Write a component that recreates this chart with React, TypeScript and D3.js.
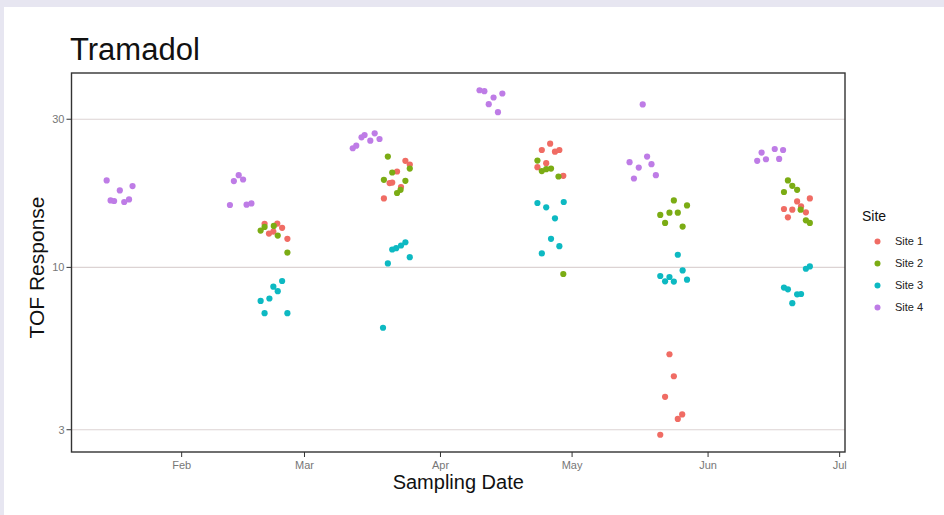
import React from 'react'
import * as d3 from 'd3'

// day of year 2021 (Jan 1 = 0), jittered sampling position
const site1Days = [49.9, 52.8, 53.9, 50.9, 51.9, 55.1, 82.0, 83.0, 80.1, 78.4, 79.0, 81.0, 77.1,
  115.0, 113.1, 116.1, 117.1, 114.1, 112.1, 118.0, 142.2, 143.2, 141.2, 145.1, 144.1, 140.1,
  171.3, 174.2, 168.3, 170.2, 173.3, 169.2, 172.2]
const site1Values = [13.81, 13.84, 13.41, 12.85, 13.04, 12.36, 22.03, 21.43, 20.36, 18.68, 18.76, 18.14, 16.68,
  25.02, 23.88, 23.59, 23.88, 21.65, 21.02, 19.72, 5.25, 4.46, 3.83, 3.36, 3.25, 2.89,
  16.31, 16.68, 15.42, 15.34, 15.04, 14.5, 15.72]

const site2Days = [49.0, 49.9, 52.0, 52.9, 55.1, 78.0, 79.0, 77.1, 83.0, 82.0, 80.1, 80.9,
  112.1, 113.1, 114.1, 115.2, 116.9, 118.0, 143.2, 146.2, 140.1, 142.2, 144.1, 141.2, 145.2,
  169.2, 170.2, 171.3, 168.3, 172.1, 173.3, 174.2]
const site2Values = [13.14, 13.5, 13.6, 12.66, 11.16, 22.74, 20.21, 19.14, 20.81, 19.0, 17.36, 17.78,
  22.08, 20.42, 20.72, 20.81, 19.62, 9.52, 16.43, 15.83, 14.75, 15.0, 15.0, 13.91, 13.53,
  19.05, 18.31, 17.78, 17.49, 15.34, 14.18, 13.91]

const site3Days = [53.9, 51.9, 52.9, 51.0, 49.0, 49.9, 55.1, 82.0, 81.0, 79.9, 79.0, 83.0, 78.0, 76.9,
  112.1, 114.1, 118.1, 116.1, 115.2, 117.1, 113.1, 144.1, 145.2, 140.1, 141.2, 142.2, 143.2, 146.2,
  174.2, 173.3, 168.3, 169.2, 171.3, 172.2, 170.2]
const site3Values = [9.04, 8.67, 8.38, 7.94, 7.8, 7.12, 7.12, 12.05, 11.76, 11.53, 11.42, 10.79, 10.3, 6.39,
  16.12, 15.61, 16.24, 14.39, 12.36, 11.7, 11.09, 10.98, 9.78, 9.38, 9.02, 9.31, 9.0, 9.13,
  10.07, 9.9, 8.61, 8.5, 8.19, 8.21, 7.67]

const site4Days = [13.9, 16.9, 19.8, 14.8, 15.6, 17.9, 19.0, 42.9, 44.0, 45.0, 42.0, 45.8, 46.9,
  70.0, 70.8, 72.0, 72.7, 74.0, 75.0, 76.1, 98.9, 100.0, 104.1, 102.1, 101.0, 103.1,
  136.1, 137.1, 133.1, 135.2, 138.1, 134.1, 139.1, 163.2, 166.2, 168.1, 162.2, 164.2, 167.2]
const site4Values = [19.05, 17.69, 18.27, 16.43, 16.36, 16.24, 16.55, 18.96, 19.82, 19.19, 15.88, 15.92, 16.07,
  24.19, 24.66, 26.24, 26.69, 25.59, 27.03, 25.91, 37.2, 36.93, 36.31, 35.25, 33.55, 31.62,
  33.48, 22.74, 21.82, 20.96, 21.5, 19.33, 19.82, 23.42, 24.06, 23.88, 22.03, 22.3, 22.35]

const siteNames = ['Site 1', 'Site 2', 'Site 3', 'Site 4']
const siteColors = ['#F06C64', '#7BAC14', '#0DB9C2', '#BE7CE6']
const yTicks = [3, 10, 30]
const xTickMonths = ['2021-02-01', '2021-03-01', '2021-04-01', '2021-05-01', '2021-06-01', '2021-07-01']

const W = 944
const H = 515
const FONT = '"Liberation Sans", Arial, Helvetica, sans-serif'
const plot = { left: 71.5, right: 845, top: 73, bottom: 452 }

const dayToDate = (d: number) => new Date(Date.UTC(2021, 0, 1) + d * 86400000)

export default function App() {
  const series = [
    { days: site1Days, values: site1Values },
    { days: site2Days, values: site2Values },
    { days: site3Days, values: site3Values },
    { days: site4Days, values: site4Values },
  ]
  const points = series.flatMap((s, i) =>
    s.days.map((d, j) => ({ date: dayToDate(d), value: s.values[j], site: i })))

  // ggplot-style 5% expansion
  const [d0, d1] = d3.extent(points, (p) => p.date.getTime()) as [number, number]
  const dPad = (d1 - d0) * 0.05
  const x = d3.scaleUtc()
    .domain([new Date(d0 - dPad), new Date(d1 + dPad)])
    .range([plot.left, plot.right])

  const [v0, v1] = d3.extent(points, (p) => Math.log10(p.value)) as [number, number]
  const vPad = (v1 - v0) * 0.05
  const y = d3.scaleLog()
    .domain([10 ** (v0 - vPad), 10 ** (v1 + vPad)])
    .range([plot.bottom, plot.top])

  const monthFmt = d3.utcFormat('%b')
  const xTicks = xTickMonths.map((m) => new Date(m + 'T00:00:00Z'))

  return (
    <svg width={W} height={H} style={{ position: 'absolute', left: 0, top: 0 }} fontFamily={FONT}>
      <rect x={0} y={0} width={W} height={H} fill="#E7E6F1" />
      <rect x={4} y={7} width={W - 4} height={H - 7} fill="#FFFFFF" />

      <text x={70} y={60} fontSize={31} fill="#111">Tramadol</text>

      {/* grid */}
      {yTicks.map((t) => (
        <line key={'g' + t} x1={plot.left} x2={plot.right} y1={y(t)} y2={y(t)}
          stroke="#DCD3D3" strokeWidth={1.1} />
      ))}

      {/* points */}
      {points.map((p, i) => (
        <circle key={i} cx={x(p.date)} cy={y(p.value)} r={3.1} fill={siteColors[p.site]} />
      ))}

      {/* panel border */}
      <rect x={plot.left} y={plot.top} width={plot.right - plot.left} height={plot.bottom - plot.top}
        fill="none" stroke="#333" strokeWidth={1.4} />

      {/* y axis */}
      {yTicks.map((t) => (
        <g key={'y' + t} transform={`translate(0,${y(t)})`}>
          <line x1={plot.left - 5} x2={plot.left} stroke="#333" strokeWidth={1} />
          <text x={plot.left - 7} dy="0.35em" textAnchor="end" fontSize={11} fill="#777">{t}</text>
        </g>
      ))}

      {/* x axis */}
      {xTicks.map((t) => (
        <g key={'x' + t.getTime()} transform={`translate(${x(t)},0)`}>
          <line y1={plot.bottom} y2={plot.bottom + 5} stroke="#333" strokeWidth={1} />
          <text y={plot.bottom + 17} textAnchor="middle" fontSize={11} fill="#777">{monthFmt(t)}</text>
        </g>
      ))}

      <text x={(plot.left + plot.right) / 2} y={489} textAnchor="middle" fontSize={20} fill="#111">
        Sampling Date
      </text>
      <text transform={`translate(44,${(plot.top + plot.bottom) / 2 + 5}) rotate(-90)`} textAnchor="middle"
        fontSize={21} fill="#111">TOF Response</text>

      {/* legend */}
      <text x={862} y={221} fontSize={14} fill="#111">Site</text>
      {siteNames.map((name, i) => (
        <g key={name} transform={`translate(0,${241.5 + i * 22})`}>
          <circle cx={877.5} cy={0} r={3} fill={siteColors[i]} />
          <text x={895} dy="0.35em" fontSize={11} fill="#222">{name}</text>
        </g>
      ))}
    </svg>
  )
}
